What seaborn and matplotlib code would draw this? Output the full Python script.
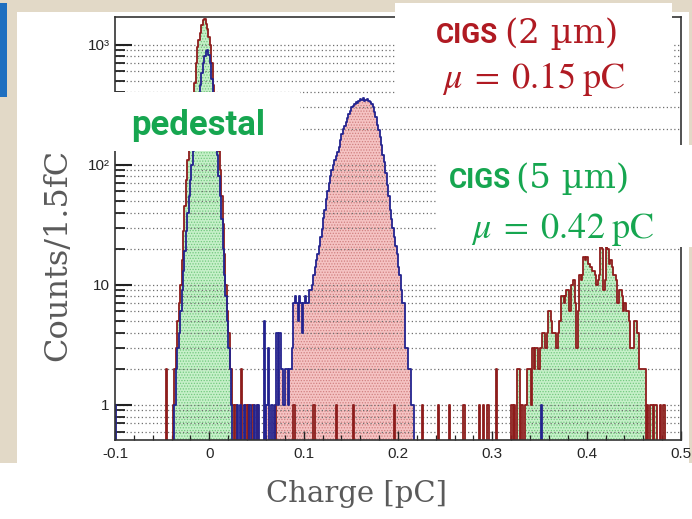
import numpy as np
import matplotlib
matplotlib.use("Agg")
import matplotlib.pyplot as plt
from matplotlib.patches import Rectangle
from matplotlib.ticker import FixedLocator, MultipleLocator, NullFormatter
import seaborn as sns

# ---------------------------------------------------------------------------
# Binning: 400 bins of 1.5 fC between -0.1 and 0.5 pC
# ---------------------------------------------------------------------------
X_LO, X_HI, BIN_W = -0.1, 0.5, 0.0015
N_BINS = 400

# CIGS (2 um): pedestal, starting at bin 42
cigs2_ped_first = 42
cigs2_ped = [1, 2, 3, 4, 6, 9, 13, 19, 28, 40,
             55, 75, 100, 130, 170, 220, 280, 360, 460, 580,
             700, 800, 880, 900, 820, 700, 520, 360, 250, 170,
             120, 80, 55, 35, 20, 12, 8, 5, 3, 2,
             1]

# CIGS (2 um): signal peak, starting at bin 100
cigs2_sig_first = 100
cigs2_sig = [1, 1, 0, 0, 0, 5, 0, 1, 3, 0,
             1, 1, 0, 1, 4, 1, 4, 2, 2, 1,
             2, 2, 1, 2, 2, 3, 7, 8, 7, 5,
             8, 7, 4, 7, 8,
             7, 7, 9, 9, 10, 12, 14, 16, 18, 21,
             25, 29, 36, 42, 52, 60, 70, 80, 90, 100,
             110, 118, 128, 140, 160, 180, 200, 212, 225, 245,
             265, 280, 300, 310, 320, 330, 325, 340, 350, 345,
             360, 340, 345, 355, 340, 330, 320, 300, 275, 250,
             215, 195, 170, 145, 120, 105, 85, 68, 55, 42,
             35, 30, 25, 21, 18, 14, 12, 9, 7, 7,
             3, 3, 2, 2, 1, 1]

# CIGS (2 um): isolated single-count bins
cigs2_stray_bins = [0, 86, 88, 91, 95, 98, 301]

# CIGS (5 um): pedestal, starting at bin 41
cigs5_ped_first = 41
cigs5_ped = [1, 2, 3, 5, 7, 10, 16, 28, 45, 75,
             110, 150, 200, 260, 360, 480, 700, 950, 1100, 1250,
             1450, 1600, 1650, 1500, 1350, 1150, 1000, 700, 460, 350,
             250, 180, 130, 90, 55, 32, 18, 10, 6, 4,
             2, 2, 1]

# CIGS (5 um): signal peak, starting at bin 284
cigs5_sig_first = 284
cigs5_sig = [2, 2, 0, 1, 0, 0, 1, 2, 2, 2,
             1, 3, 2, 3, 3, 2, 3, 3, 4, 4,
             3, 4, 6, 6, 5, 4, 4, 4, 3, 4,
             5, 8, 8, 7, 8, 9, 9, 6, 10, 10,
             11, 7, 3, 6, 12, 11, 12, 17, 16, 17,
             15, 15, 14, 13, 13, 12, 10, 11, 12, 21,
             20, 9, 11, 21, 20, 15, 16, 14, 12, 12,
             11, 7, 9, 9, 8, 6, 7, 6, 6, 5,
             3, 3, 3, 5, 5, 4, 2, 2, 2, 2,
             2, 0, 1, 0, 1, 1, 0, 1, 1, 0,
             0, 1, 0, 1, 1]

# CIGS (5 um): isolated bins (bin index, counts)
cigs5_stray_bins = [36, 85, 89, 92, 94, 97, 100, 113, 126, 140, 156, 168,
                    197, 217, 228, 236, 246, 257, 260, 263, 269, 280, 282]
cigs5_stray_counts = [2, 1, 2, 1, 1, 1, 1, 1, 1, 1, 1, 1,
                      1, 1, 1, 1, 1, 1, 1, 1, 2, 1, 1]

y_tick_values = [1, 10, 100, 1000]
y_tick_labels = ["1", "10", "10\u00b2", "10\u00b3"]
x_tick_values = [-0.1, 0.0, 0.1, 0.2, 0.3, 0.4, 0.5]
x_tick_labels = ["-0.1", "0", "0.1", "0.2", "0.3", "0.4", "0.5"]


def fill_counts(segments, strays, stray_counts=None):
    counts = np.zeros(N_BINS)
    for first, values in segments:
        counts[first:first + len(values)] += np.asarray(values, float)
    if stray_counts is None:
        stray_counts = [1] * len(strays)
    for b, c in zip(strays, stray_counts):
        counts[b] += c
    return counts


edges_arr = X_LO + BIN_W * np.arange(N_BINS + 1)
edges = edges_arr.tolist()
centers = edges_arr[:-1] + BIN_W / 2
counts2 = fill_counts([(cigs2_ped_first, cigs2_ped), (cigs2_sig_first, cigs2_sig)],
                      cigs2_stray_bins)
counts5 = fill_counts([(cigs5_ped_first, cigs5_ped), (cigs5_sig_first, cigs5_sig)],
                      cigs5_stray_bins, cigs5_stray_counts)

# ---------------------------------------------------------------------------
# Styling
# ---------------------------------------------------------------------------
sns.set_theme(style="ticks")
plt.rcParams["font.family"] = ["Liberation Sans", "DejaVu Sans"]
plt.rcParams["axes.unicode_minus"] = False
plt.rcParams["hatch.linewidth"] = 0.6
plt.rcParams["mathtext.fontset"] = "stix"

W, H = 692, 519
fig = plt.figure(figsize=(W / 100, H / 100), dpi=100, facecolor="white")


def fx(x):
    return x / W


def fy(y):
    return 1 - y / H


BEIGE = "#e2d9c7"
PINK = "#f5c3c3"
PINK_DOT = "#d08080"
GREEN = "#c6f0c9"
GREEN_DOT = "#72c97e"
BLUE_LINE = "#23238f"
RED_LINE = "#8e1c1c"
TXT_RED = "#b01a22"
TXT_GREEN = "#16a650"
AX_GRAY = "#5a5a5a"

# slide background around the white panel
for (x0, y0, x1, y1) in [(0, 0, W, 12), (0, 0, 17, 463), (689, 0, W, 463)]:
    fig.add_artist(Rectangle((fx(x0), fy(y1)), fx(x1 - x0), (y1 - y0) / H,
                             transform=fig.transFigure, facecolor=BEIGE,
                             edgecolor="none", zorder=-2))
fig.add_artist(Rectangle((fx(0), fy(97)), fx(7), 94 / H, transform=fig.transFigure,
                         facecolor="#1e6fc0", edgecolor="none", zorder=-1))

ax_l, ax_r, ax_t, ax_b = 115, 681, 17, 440
ax = fig.add_axes([fx(ax_l), fy(ax_b), fx(ax_r - ax_l), (ax_b - ax_t) / H])
ax.set_facecolor("white")


def hist_layer(counts, **kws):
    sns.histplot(x=centers, weights=counts, bins=edges, element="step", ax=ax, **kws)


# filled areas (2 um below, 5 um above), each with a dotted texture
hist_layer(counts2, fill=True, color=PINK, facecolor=PINK, edgecolor="none",
           linewidth=0, alpha=1, zorder=1.0)
hist_layer(counts2, fill=True, color=PINK_DOT, facecolor="none", edgecolor=PINK_DOT,
           hatch="......", linewidth=0, zorder=1.05)
hist_layer(counts5, fill=True, color=GREEN, facecolor=GREEN, edgecolor="none",
           linewidth=0, alpha=1, zorder=1.1)
hist_layer(counts5, fill=True, color=GREEN_DOT, facecolor="none", edgecolor=GREEN_DOT,
           hatch="......", linewidth=0, zorder=1.15)
# outlines
hist_layer(counts5, fill=False, color=RED_LINE, linewidth=1.3, zorder=2.0)
hist_layer(counts2, fill=False, color=BLUE_LINE, linewidth=1.3, zorder=2.1)

ax.set_yscale("log")
ax.set_xlim(X_LO, X_HI)
ax.set_ylim(0.51, 1700)
ax.set_xlabel("")
ax.set_ylabel("")

ax.yaxis.set_major_locator(FixedLocator(y_tick_values))
ax.set_yticklabels(y_tick_labels)
minor_y = [m * 10.0 ** e for e in range(-1, 4) for m in range(2, 10)]
minor_y = [v for v in minor_y if 0.51 < v < 1700]
ax.yaxis.set_minor_locator(FixedLocator(minor_y))
ax.yaxis.set_minor_formatter(NullFormatter())
ax.set_xticks(x_tick_values)
ax.set_xticklabels(x_tick_labels)
ax.xaxis.set_minor_locator(MultipleLocator(0.02))

ax.set_axisbelow("line")
ax.yaxis.grid(True, which="both", linestyle=(0, (1, 2)), color="#6f6f6f",
              linewidth=0.9)
ax.xaxis.grid(False)

ax.tick_params(axis="y", which="major", direction="in", length=12.5, width=1.5,
               left=True, right=False, labelsize=11, pad=4, color="#222222")
ax.tick_params(axis="y", which="minor", direction="in", length=7.5, width=1.3,
               left=True, right=False, color="#222222")
ax.tick_params(axis="x", which="major", direction="in", length=6.5, width=1.0,
               bottom=True, top=False, labelsize=11, pad=5, color="#222222")
ax.tick_params(axis="x", which="minor", direction="in", length=3.5, width=0.9,
               bottom=True, top=False, color="#222222")
for s in ax.spines.values():
    s.set_visible(True)
    s.set_color("#333333")
    s.set_linewidth(1.2)

# axis titles
fig.text(fx(356), fy(502), "Charge [pC]", ha="center", va="baseline",
         fontsize=21, color=AX_GRAY, family="DejaVu Serif")
fig.text(fx(66), fy(255), "Counts/1.5fC", ha="center", va="baseline",
         rotation=90, rotation_mode="anchor", fontsize=23, color=AX_GRAY,
         family="DejaVu Serif")

# annotation boxes
for (x0, y0, x1, y1) in [(114, 92, 300, 151), (395, 3, 672, 97), (437, 145, 692, 247)]:
    fig.add_artist(Rectangle((fx(x0), fy(y1)), fx(x1 - x0), (y1 - y0) / H,
                             transform=fig.transFigure, facecolor="white",
                             edgecolor="none", zorder=5))

fig.text(fx(131), fy(135), "pedestal", ha="left", va="baseline", fontsize=25,
         fontweight="bold", color=TXT_GREEN, family="Roboto", zorder=6)

fig.text(fx(436), fy(43), "CIGS", ha="left", va="baseline", fontsize=20,
         fontweight="bold", color=TXT_RED, family="Roboto", zorder=6)
fig.text(fx(505), fy(43), "(2 \u00b5m)", ha="left", va="baseline", fontsize=24.5,
         color=TXT_RED, family="DejaVu Serif", zorder=6)
fig.text(fx(442), fy(88), r"$\mu\;=\;0.15\;\mathrm{pC}$", ha="left", va="baseline",
         fontsize=26, color=TXT_RED, zorder=6)

fig.text(fx(449), fy(188), "CIGS", ha="left", va="baseline", fontsize=20,
         fontweight="bold", color=TXT_GREEN, family="Roboto", zorder=6)
fig.text(fx(516), fy(188), "(5 \u00b5m)", ha="left", va="baseline", fontsize=24.5,
         color=TXT_GREEN, family="DejaVu Serif", zorder=6)
fig.text(fx(471), fy(238), r"$\mu\;=\;0.42\;\mathrm{pC}$", ha="left", va="baseline",
         fontsize=26, color=TXT_GREEN, zorder=6)

fig.savefig("out.png", dpi=100, facecolor=fig.get_facecolor())
